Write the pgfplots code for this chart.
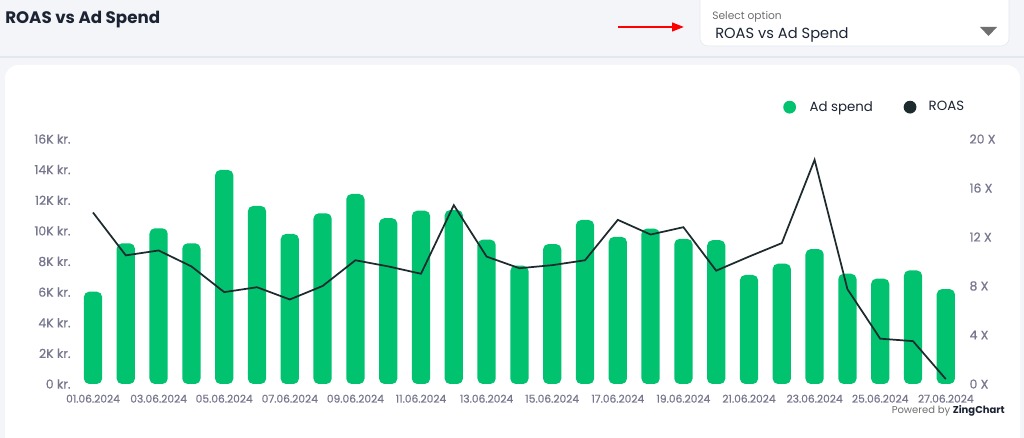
\documentclass[border=0pt]{standalone}
\usepackage{fontspec}
\setmainfont{Poppins}
\newfontfamily\poppinsmed[FakeBold=0.6]{Poppins}
\usepackage{pgfplots}
\usepackage{pgfplotstable}
\pgfplotsset{compat=1.18}
\usetikzlibrary{arrows.meta}
\definecolor{bg}{HTML}{F3F5F9}
\definecolor{sep}{HTML}{E3E7EE}
\definecolor{barGreen}{HTML}{00C26F}
\definecolor{lineDark}{HTML}{1D2A2E}
\definecolor{tickGrey}{HTML}{77778F}
\definecolor{navy}{HTML}{1C2434}
\definecolor{ddGrey}{HTML}{6F6F6F}

\pgfplotstableread{
x spend roas
0 6030 14.0
1 9190 10.5
2 10170 10.9
3 9190 9.6
4 13980 7.5
5 11630 7.9
6 9800 6.9
7 11150 8.0
8 12410 10.1
9 10830 9.6
10 11320 9.0
11 11360 14.6
12 9430 10.4
13 7730 9.45
14 9140 9.7
15 10710 10.1
16 9610 13.4
17 10150 12.2
18 9480 12.8
19 9390 9.25
20 7120 10.4
21 7860 11.5
22 8810 18.3
23 7200 7.75
24 6880 3.7
25 7420 3.5
26 6200 0.4
}\datatable

\begin{document}
\begin{tikzpicture}[x=0.75pt,y=0.75pt]
\useasboundingbox (0,0) rectangle (1024,438);
\fill[bg] (0,0) rectangle (1024,438);
\draw[sep, line width=1pt] (0,381) -- (1024,381);
\fill[white, rounded corners=10pt] (5,-20) rectangle (1020,373);
% title
\node[anchor=west, inner sep=0, font=\bfseries\fontsize{12.5}{14}\selectfont, text=navy] at (5,418.5) {ROAS vs Ad Spend};
% dropdown
\filldraw[fill=white, draw=sep, rounded corners=6pt] (700,392) rectangle (1009,450);
\node[anchor=west, inner sep=0, font=\fontsize{8}{9}\selectfont, text=ddGrey] at (712,421.5) {Select option};
\node[anchor=west, inner sep=0, font=\fontsize{11}{13}\selectfont, text=navy] at (715,403) {ROAS vs Ad Spend};
\fill[ddGrey] (980,411) -- (997,411) -- (988.5,402) -- cycle;
\draw[red, line width=1.6pt, -{Triangle[length=9pt,width=6.5pt]}] (618,411) -- (684,411);
% powered by
\node[anchor=east, inner sep=0, font=\fontsize{7.5}{9}\selectfont] at (1005,27) {\textcolor{ddGrey}{Powered by} \textcolor{navy}{\bfseries ZingChart}};

\begin{axis}[
  at={(57.45pt,40.5pt)}, anchor=south west,
  scale only axis, width=664.2pt, height=183.75pt,
  xmin=-0.5, xmax=26.5, ymin=0, ymax=16000,
  scaled y ticks=false,
  axis line style={draw=none}, tick style={draw=none},
  major tick length=0pt,
  ytick={0,2000,4000,6000,8000,10000,12000,14000,16000},
  yticklabels={0 kr.,2K kr.,4K kr.,6K kr.,8K kr.,10K kr.,12K kr.,14K kr.,16K kr.},
  xtick={0,2,4,6,8,10,12,14,16,18,20,22,24,26},
  xticklabels={01.06.2024,03.06.2024,05.06.2024,07.06.2024,09.06.2024,11.06.2024,13.06.2024,15.06.2024,17.06.2024,19.06.2024,21.06.2024,23.06.2024,25.06.2024,27.06.2024},
  ticklabel style={text=tickGrey},
  yticklabel style={font=\poppinsmed\fontsize{9.3}{10}\selectfont, xshift=-1pt},
  xticklabel style={font=\poppinsmed\fontsize{8}{9}\selectfont, yshift=-4.5pt},
]
\addplot[ybar, bar width=13.7pt, fill=barGreen, draw=none, rounded corners=4pt] table[x=x,y=spend]{\datatable};
\end{axis}

\begin{axis}[
  at={(57.45pt,40.5pt)}, anchor=south west,
  scale only axis, width=664.2pt, height=183.75pt,
  xmin=-0.5, xmax=26.5, ymin=0, ymax=20,
  axis y line*=right, axis x line=none,
  axis line style={draw=none}, tick style={draw=none},
  major tick length=0pt,
  ytick={0,4,8,12,16,20},
  yticklabels={0 X,4 X,8 X,12 X,16 X,20 X},
  ticklabel style={text=tickGrey},
  yticklabel style={font=\poppinsmed\fontsize{9.3}{10}\selectfont, xshift=2pt},
  legend style={at={(1.01,1.13)}, anchor=east, draw=none, fill=none,
    font=\fontsize{10}{11}\selectfont, text=navy,
    legend columns=2,
    /tikz/every even column/.append style={column sep=21pt}},
]
\addlegendimage{legend image code/.code={\fill[barGreen, draw=none] (0,0) circle (4.8pt); \path[draw=none, fill=none] (-4.8pt,-4.8pt) rectangle (13pt,4.8pt);}}
\addlegendentry{Ad spend}
\addplot[lineDark, line width=1.3pt, mark=none,
  legend image code/.code={\fill[lineDark, draw=none] (0,0) circle (4.8pt); \path[draw=none, fill=none] (-4.8pt,-4.8pt) rectangle (12pt,4.8pt);}] table[x=x,y=roas]{\datatable};
\addlegendentry{ROAS}
\end{axis}
\end{tikzpicture}
\end{document}
